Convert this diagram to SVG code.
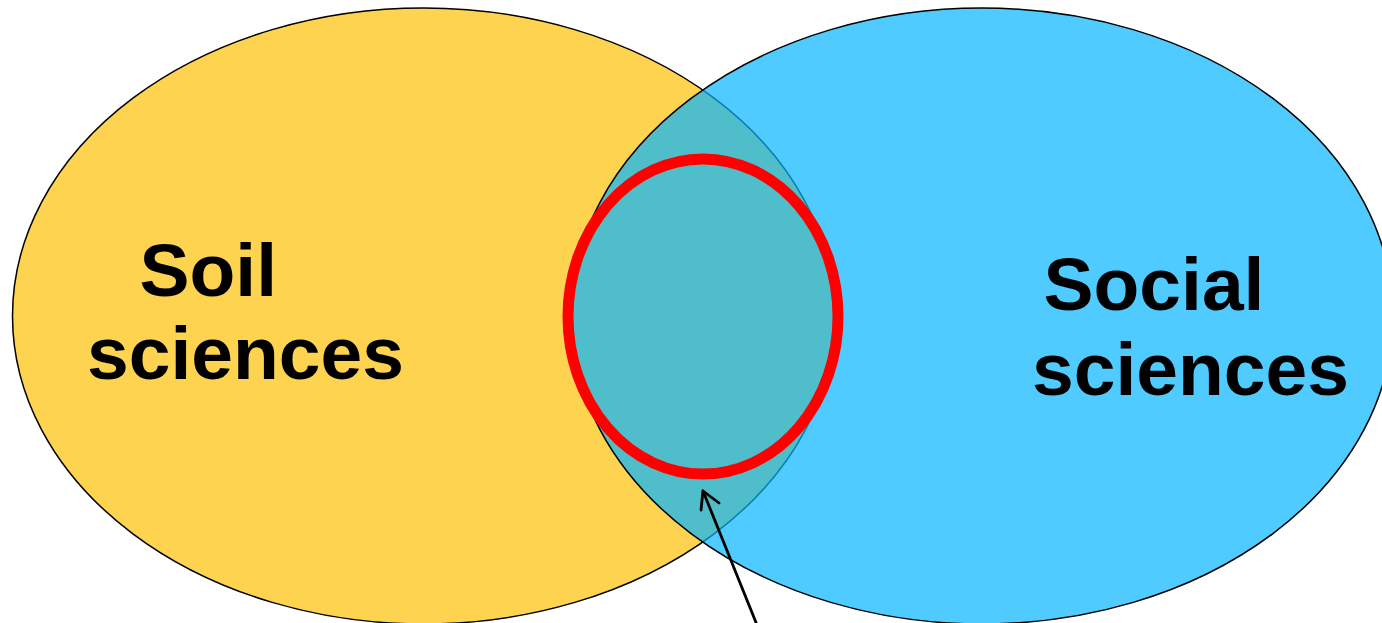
<svg xmlns="http://www.w3.org/2000/svg" width="1382" height="623" viewBox="0 0 1382 623">
  <defs>
    <style>
      .lbl { font-family: "Liberation Sans", Arial, sans-serif; font-weight: bold; font-size: 75px; fill: #000; }
      .set { stroke: #000; stroke-width: 1.5; }
      .conn { stroke: #000; stroke-width: 2.8; fill: none; stroke-linecap: round; stroke-linejoin: round; }
    </style>
  </defs>
  <rect width="1382" height="623" fill="#fff"/>
  <g id="soil">
    <ellipse class="set" cx="423.5" cy="316" rx="411" ry="308" fill="#FDD34F"/>
    <text class="lbl" x="139.5" y="296">Soil</text>
    <text class="lbl" x="87" y="379">sciences</text>
  </g>
  <g id="social">
    <ellipse class="set" cx="982" cy="316" rx="411" ry="308" fill="#04B5FF" fill-opacity="0.7"/>
    <text class="lbl" x="1043.5" y="310">Social</text>
    <text class="lbl" x="1032" y="395">sciences</text>
  </g>
  <g id="overlap">
    <ellipse cx="703" cy="316.5" rx="135" ry="157.5" fill="none" stroke="#FF0000" stroke-width="11"/>
  </g>
  <g id="connectors">
    <line class="conn" x1="757" y1="625" x2="703" y2="491"/>
    <polyline class="conn" points="701,510 703,491 719,503"/>
  </g>
</svg>
